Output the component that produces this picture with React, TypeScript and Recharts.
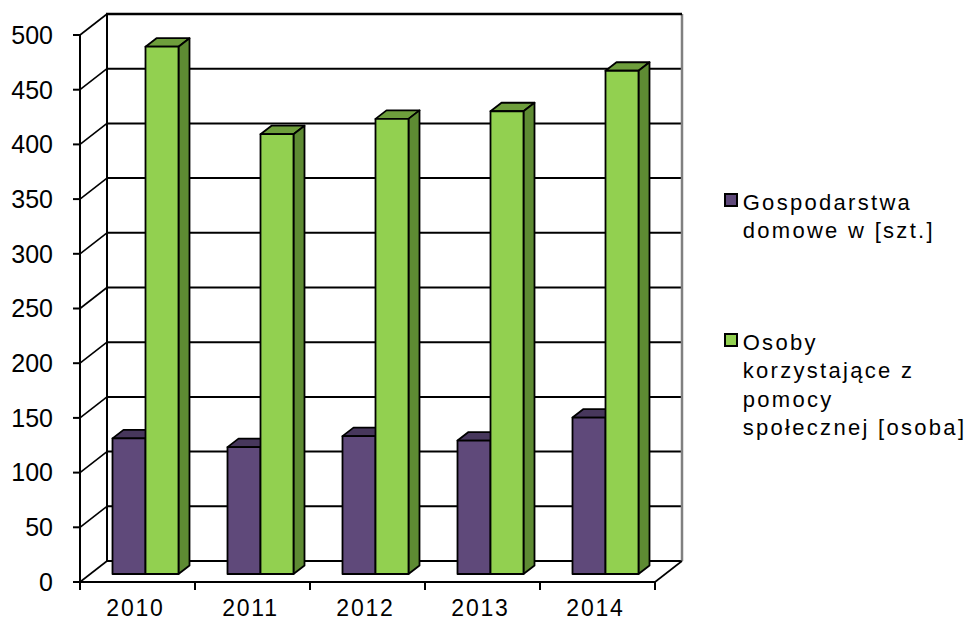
import React from 'react'
import { BarChart, Bar, XAxis, YAxis, CartesianGrid, Legend, ReferenceArea } from 'recharts'

const years = ['2010', '2011', '2012', '2013', '2014']
const households = [124, 116, 126, 122, 143]
const persons = [482, 402, 416, 423, 460]
const yTicks = [0, 50, 100, 150, 200, 250, 300, 350, 400, 450, 500]
const householdsLabel = ['Gospodarstwa', 'domowe w [szt.]']
const personsLabel = ['Osoby', 'korzystające z', 'pomocy', 'społecznej [osoba]']

const data = years.map((year, i) => ({ year, households: households[i], persons: persons[i] }))
const legendLines: Record<string, string[]> = { households: householdsLabel, persons: personsLabel }

const FONT = '"Liberation Sans", Arial, sans-serif'
// depth of the 3d box (front axis -> back wall)
const DX = 27
const DY = 21
// depth of each bar
const BAR_DX = 11
const BAR_DY = 8.5
const BAR_SHIFT_X = 7.5
const BAR_SHIFT_Y = 8

const makeBar = (front: string, top: string, side: string) => (props: any) => {
  const { x, y, width, height } = props
  if (x == null || width == null || height == null) return <g />
  const X = x + BAR_SHIFT_X
  const Y = y - BAR_SHIFT_Y
  const w = width
  const h = height
  return (
    <g stroke="#000" strokeWidth={1.8} strokeLinejoin="round">
      <polygon
        points={`${X},${Y} ${X + BAR_DX},${Y - BAR_DY} ${X + w + BAR_DX},${Y - BAR_DY} ${X + w},${Y}`}
        fill={top}
      />
      <polygon
        points={`${X + w},${Y} ${X + w + BAR_DX},${Y - BAR_DY} ${X + w + BAR_DX},${Y + h - BAR_DY} ${X + w},${Y + h}`}
        fill={side}
      />
      <rect x={X} y={Y} width={w} height={h} fill={front} />
    </g>
  )
}

const gridLine = (props: any) => {
  const { x1, x2, y1, index } = props
  return (
    <g key={`grid-${index}-${y1}`}>
      <line x1={x1} y1={y1} x2={x1 + DX} y2={y1 - DY} stroke="#000" strokeWidth={1.6} />
      <line x1={x1 + DX} y1={y1 - DY} x2={x2 + DX} y2={y1 - DY} stroke="#000" strokeWidth={2} />
    </g>
  )
}

const frame = (props: any) => {
  const { x, y, width, height } = props
  const right = x + width
  const bottom = y + height
  return (
    <g>
      <line x1={x + DX} y1={y - DY} x2={x + DX} y2={bottom - DY} stroke="#000" strokeWidth={2} />
      <line x1={right + DX} y1={y - DY} x2={right + DX} y2={bottom - DY} stroke="#808080" strokeWidth={2.5} />
      <line x1={right} y1={bottom} x2={right + DX} y2={bottom - DY} stroke="#000" strokeWidth={1.6} />
      <line x1={x + DX - 1} y1={y - DY} x2={right + DX} y2={y - DY} stroke="#000" strokeWidth={2.5} />
    </g>
  )
}

const XTick = (props: any) => {
  const { x, y, payload, index, visibleTicksCount } = props
  const half = payload?.offset || 57.5
  const last = index === (visibleTicksCount ?? years.length) - 1
  return (
    <g>
      <line x1={x - half} y1={y} x2={x - half} y2={y + 8} stroke="#000" strokeWidth={2} />
      {last && <line x1={x + half} y1={y} x2={x + half} y2={y + 8} stroke="#000" strokeWidth={2} />}
      <text
        x={x - 2}
        y={y + 18}
        dy="0.71em"
        textAnchor="middle"
        fontFamily={FONT}
        fontSize={23}
        letterSpacing={1.8}
        fill="#000"
      >
        {payload.value}
      </text>
    </g>
  )
}

const renderLegend = (props: any) => {
  const { payload } = props
  return (
    <div style={{ position: 'relative', fontFamily: FONT, fontSize: 22, letterSpacing: 2.3, lineHeight: '28.5px', color: '#000' }}>
      {(payload || []).map((entry: any, i: number) => (
        <div key={entry.dataKey} style={{ position: 'absolute', left: 0, top: i * 140 }}>
          <div
            style={{
              position: 'absolute',
              left: 4,
              top: 7,
              width: 14,
              height: 14,
              boxSizing: 'border-box',
              border: '2px solid #000',
              background: entry.color,
            }}
          />
          <div style={{ position: 'absolute', left: 22.7, top: 2.8, whiteSpace: 'nowrap' }}>
            {(legendLines[entry.dataKey] || [entry.value]).map((line) => (
              <div key={line}>{line}</div>
            ))}
          </div>
        </div>
      ))}
    </div>
  )
}

export default function App() {
  return (
    <div style={{ position: 'absolute', left: 0, top: 0, width: 970, height: 623, background: '#fff', fontFamily: FONT }}>
      <BarChart
        width={970}
        height={623}
        data={data}
        margin={{ top: 35, right: 315, bottom: 0, left: 0 }}
        barSize={33}
        barGap={0}
      >
        <CartesianGrid vertical={false} horizontal={gridLine} />
        <ReferenceArea y1={0} y2={500} shape={frame} ifOverflow="visible" />
        <XAxis
          dataKey="year"
          height={41}
          axisLine={{ stroke: '#000', strokeWidth: 2 }}
          tickLine={false}
          tickSize={0}
          tickMargin={0}
          tick={<XTick />}
          interval={0}
        />
        <YAxis
          width={80}
          domain={[0, 500]}
          ticks={yTicks}
          interval={0}
          axisLine={{ stroke: '#000', strokeWidth: 2 }}
          tickLine={{ stroke: '#000', strokeWidth: 2 }}
          tickSize={7}
          tickMargin={20}
          tick={{ fill: '#000', fontSize: 25, fontFamily: FONT }}
        />
        <Legend
          layout="vertical"
          align="center"
          verticalAlign="middle"
          wrapperStyle={{ left: 720, top: 186, width: 250, height: 270 }}
          content={renderLegend}
        />
        <Bar
          dataKey="households"
          name={householdsLabel.join(' ')}
          fill="#5F497A"
          shape={makeBar('#5F497A', '#47375C', '#47375C')}
          isAnimationActive={false}
        />
        <Bar
          dataKey="persons"
          name={personsLabel.join(' ')}
          fill="#92D050"
          shape={makeBar('#92D050', '#6E9E3C', '#5E8B33')}
          isAnimationActive={false}
        />
      </BarChart>
    </div>
  )
}
